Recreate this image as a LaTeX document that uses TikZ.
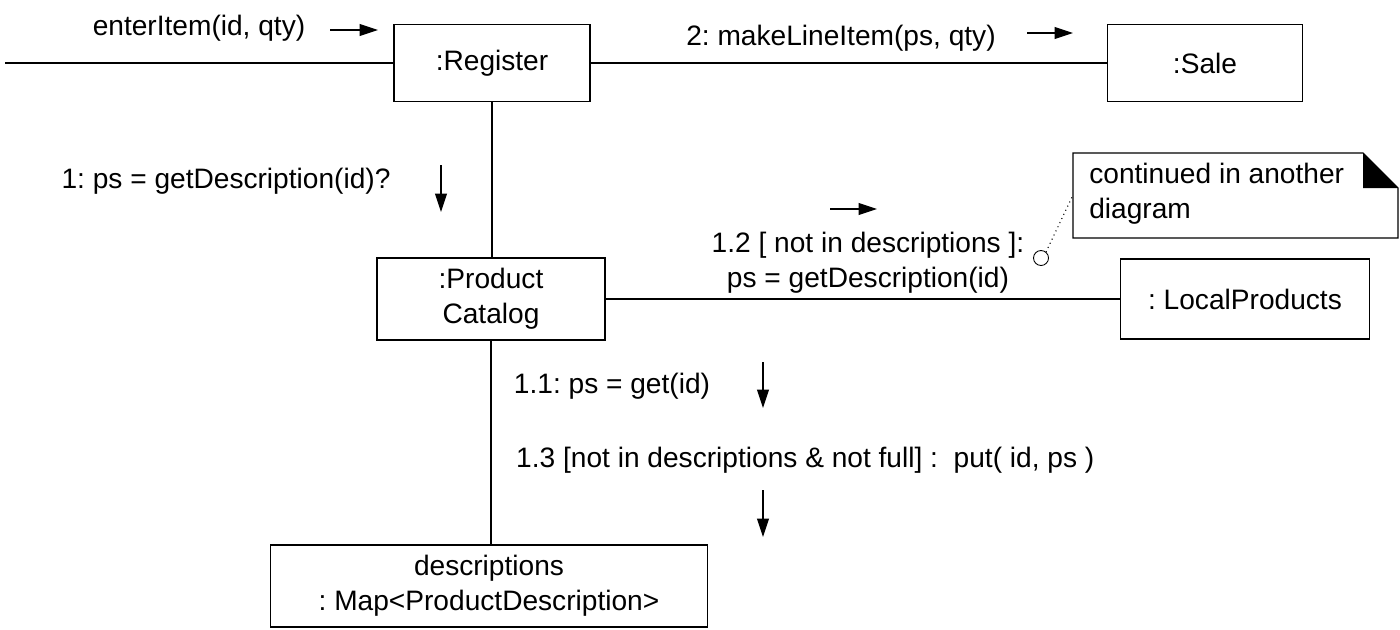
\documentclass[tikz,border=0pt]{standalone}
\usepackage{fontspec}
\setmainfont{Liberation Sans}
\usetikzlibrary{arrows.meta}
\frenchspacing
\begin{document}
\begin{tikzpicture}[x=0.02cm,y=-0.02cm,
  every node/.style={font=\fontsize{16}{20}\selectfont},
  obj/.style={draw,line width=0.6pt,align=center,inner sep=0pt},
  msg/.style={-{Triangle[length=10.5pt,width=6.8pt]},line width=0.6pt},
  link/.style={line width=0.6pt}]
\useasboundingbox (0,0) rectangle (1400,629);
% objects
\node[obj,minimum width=3.92cm,minimum height=1.54cm] (reg) at (492,63) {:Register};
\node[obj,minimum width=3.9cm,minimum height=1.54cm] (sale) at (1205,63) {:Sale};
\node[obj,minimum width=4.56cm,minimum height=1.64cm] (cat) at (491,299) {:Product\\Catalog};
\node[obj,minimum width=4.98cm,minimum height=1.6cm] (local) at (1245,299) {: LocalProducts};
\node[obj,minimum width=8.76cm,minimum height=1.64cm] (map) at (489,586) {descriptions\\: Map<ProductDescription>};
%
\coordinate (in) at (5,63);
\draw[link] (in) -- (reg);
\draw[link] (reg) -- (sale);
\draw[link] (reg.south) -- (reg.south |- cat.north);
\draw[link] (cat) -- (local);
\draw[link] (cat.south) -- (cat.south |- map.north);
% messages
\node (m0) at (199,28) {enterItem(id, qty)};
\draw[msg] (330,30) -- ++(48,0);
%
\node (m2) at (841,38) {2: makeLineItem(ps, qty)};
\draw[msg] (1027,33) -- ++(46,0);
%
\node (m1) at (226,181) {1: ps = getDescription(id)?};
\draw[msg] (441,165) -- ++(0,47);
%
\draw[msg] (830,209) -- ++(47,0);
\node[align=center] (m12) at (868,263) {1.2 [ not in descriptions ]:\\ps = getDescription(id)};
%
\node (m11) at (612,386) {1.1: ps = get(id)};
\draw[msg] (763,362) -- ++(0,46);
%
\node[anchor=west] (m13) at (510,460) {1.3 [not in descriptions \& not full] :\ \ put( id, ps )};
\draw[msg] (763,490) -- ++(0,47);
% note
\draw[line width=0.6pt] (1073,153) -- (1363,153) -- (1398,188) -- (1398,238) -- (1073,238) -- cycle;
\fill (1363,153) -- (1363,188) -- (1398,188) -- cycle;
\node[anchor=north west,align=left,inner sep=0pt] (note) at (1089,163) {continued in another\\diagram};
\draw[line width=0.5pt] (1041,258) circle[radius=0.15cm];
\draw[dotted,line width=0.6pt] (1046,252) -- (1073,195);
\end{tikzpicture}
\end{document}
